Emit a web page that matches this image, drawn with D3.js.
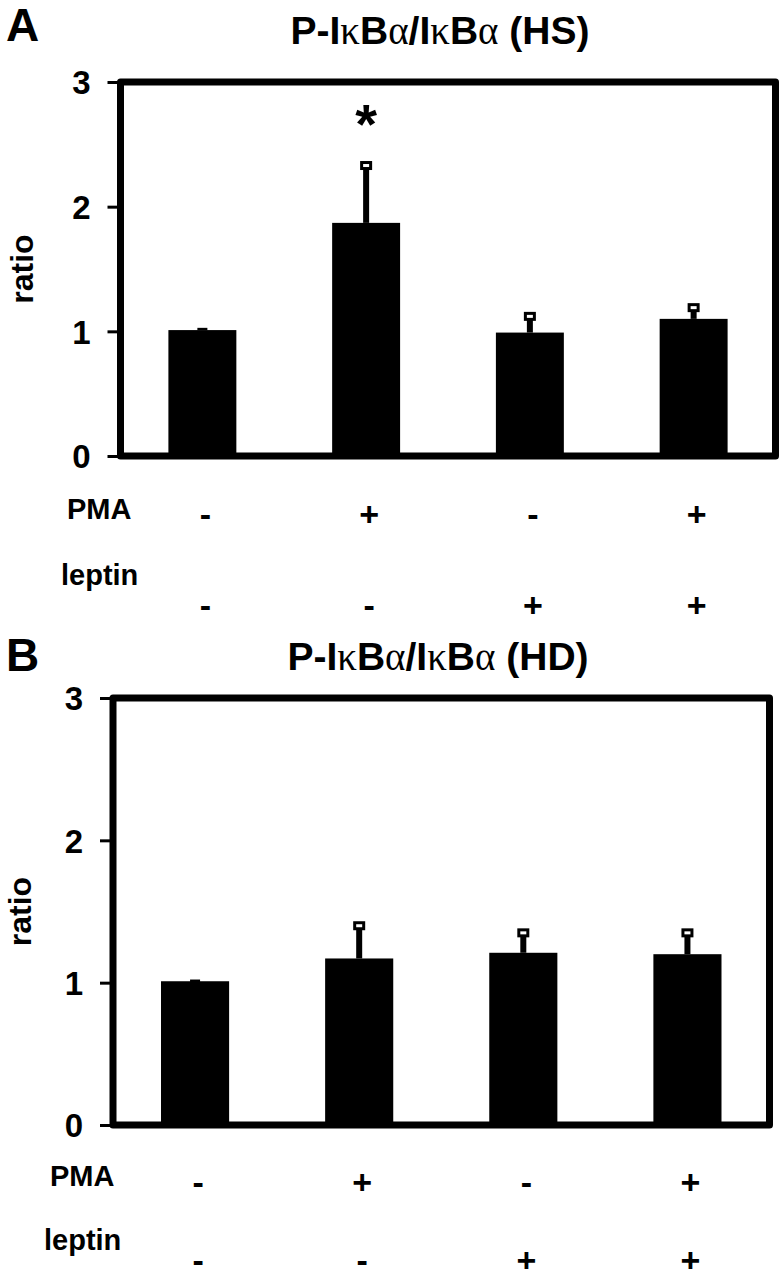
<!DOCTYPE html>
<html><head><meta charset="utf-8">
<script src="https://cdn.jsdelivr.net/npm/d3@7"></script>
<style>
html,body{margin:0;padding:0;background:#fff;}
text{font-family:"Liberation Sans",Arial,sans-serif;font-weight:bold;fill:#000;}
</style></head>
<body>
<svg id="chart" width="782" height="1280"></svg>
<script>
// ---- data ----
const groups = ["g1", "g2", "g3", "g4"];
const pmaSigns = ["-", "+", "-", "+"];
const leptinSigns = ["-", "-", "+", "+"];
const hsMean = [1.01, 1.87, 0.99, 1.10];
const hsUpper = [1.02, 2.33, 1.12, 1.19];
const hsSig = ["", "*", "", ""];
const hdMean = [1.01, 1.17, 1.21, 1.20];
const hdUpper = [1.015, 1.40, 1.35, 1.35];
const hdSig = ["", "", "", ""];
const yTicks = [0, 1, 2, 3];
const titles = ["HS", "HD"];

const svg = d3.select("#chart");

function panel(o) {
  const g = svg.append("g");
  const x = d3.scaleBand().domain(groups).range([o.left, o.right])
    .paddingInner(0.585).paddingOuter(0.2925);
  const y = d3.scaleLinear().domain([0, 3]).range([o.bottom, o.top]);
  const cx = i => x(groups[i]) + x.bandwidth() / 2;
  const rows = o.mean.map((m, i) => ({i: i, m: m, u: o.upper[i], s: o.sig[i]}));

  // panel letter
  g.append("text").attr("x", 6).attr("y", o.letterY).attr("font-size", 46).text(o.letter);
  // title
  const t = g.append("text").attr("x", o.titleX).attr("y", o.titleY)
    .attr("text-anchor", "middle").attr("font-size", 39);
  const parts = [["P-I", 0], ["κ", 1], ["B", 0], ["α", 1], ["/I", 0], ["κ", 1], ["B", 0], ["α", 1], [" (" + o.tag + ")", 0]];
  parts.forEach(p => {
    const ts = t.append("tspan").text(p[0]);
    if (p[1]) ts.style("font-family", '"Liberation Serif","DejaVu Serif",serif').style("font-weight", "normal");
  });

  // bars
  g.selectAll("rect.bar").data(rows).enter().append("rect")
    .attr("x", d => x(groups[d.i])).attr("width", x.bandwidth())
    .attr("y", d => y(d.m)).attr("height", d => y(0) - y(d.m)).attr("fill", "#000");

  // error bars
  const capW = 9, capH = 6;
  const big = rows.filter(d => d.u - d.m > 0.05);
  const small = rows.filter(d => d.u - d.m <= 0.05);
  g.selectAll("rect.stem").data(big).enter().append("rect")
    .attr("x", d => cx(d.i) - 3).attr("width", 6)
    .attr("y", d => y(d.u)).attr("height", d => y(d.m) - y(d.u))
    .attr("fill", "#000");
  g.selectAll("rect.cap").data(big).enter().append("rect")
    .attr("x", d => cx(d.i) - capW / 2).attr("width", capW)
    .attr("y", d => y(d.u) - capH / 2).attr("height", capH)
    .attr("fill", "#fff").attr("stroke", "#000").attr("stroke-width", 3);
  g.selectAll("rect.stub").data(small).enter().append("rect")
    .attr("x", d => cx(d.i) - 5).attr("width", 10)
    .attr("y", d => y(d.u) - 1).attr("height", y(0) - y(0.02)).attr("fill", "#000");

  // significance
  g.selectAll("text.sig").data(rows.filter(d => d.s)).enter().append("text")
    .attr("x", d => cx(d.i))
    .attr("y", d => y(d.u) - 23)
    .attr("text-anchor", "middle").attr("font-size", 56).text(d => d.s);

  // y axis ticks & labels
  const ax = g.append("g").attr("transform", `translate(${o.left},0)`)
    .call(d3.axisLeft(y).tickValues(yTicks).tickFormat(d3.format("d")).tickSize(13).tickPadding(17));
  ax.select(".domain").remove();
  ax.selectAll(".tick line").attr("stroke", "#000").attr("stroke-width", 3);
  ax.selectAll(".tick text").attr("font-size", 33).attr("font-family", '"Liberation Sans",Arial,sans-serif')
    .attr("font-weight", "bold").attr("dy", "0.36em");

  // frame
  g.append("rect").attr("x", o.left).attr("y", o.top)
    .attr("width", o.right - o.left).attr("height", o.bottom - o.top)
    .attr("fill", "none").attr("stroke", "#000").attr("stroke-width", 7)
    .attr("stroke-linejoin", "round");

  // y label
  g.append("text").attr("transform", `translate(${o.ylabX},${(o.top + o.bottom) / 2}) rotate(-90)`)
    .attr("text-anchor", "middle").attr("font-size", 32).text("ratio");

  // treatment rows
  g.append("text").attr("x", o.rowLabX).attr("y", o.pmaY).attr("font-size", 29).text("PMA");
  g.append("text").attr("x", o.rowLabX - 6).attr("y", o.lepY).attr("font-size", 29).text("leptin");
  g.selectAll("text.pma").data(pmaSigns).enter().append("text")
    .attr("x", (d, i) => cx(i) + 3).attr("y", o.pmaSignY)
    .attr("text-anchor", "middle").attr("font-size", 34).text(d => d);
  g.selectAll("text.lep").data(leptinSigns).enter().append("text")
    .attr("x", (d, i) => cx(i) + 3).attr("y", o.lepSignY)
    .attr("text-anchor", "middle").attr("font-size", 34).text(d => d);
}

panel({letter: "A", letterY: 41, tag: titles[0], titleX: 440, titleY: 44,
  left: 120.5, right: 775.5, top: 82, bottom: 456,
  mean: hsMean, upper: hsUpper, sig: hsSig, ylabX: 33,
  rowLabX: 67, pmaY: 519, lepY: 585, pmaSignY: 526, lepSignY: 617});
panel({letter: "B", letterY: 671, tag: titles[1], titleX: 438, titleY: 670,
  left: 113, right: 769.5, top: 698, bottom: 1125,
  mean: hdMean, upper: hdUpper, sig: hdSig, ylabX: 31,
  rowLabX: 50, pmaY: 1186, lepY: 1250, pmaSignY: 1194, lepSignY: 1272});
</script>
</body></html>
